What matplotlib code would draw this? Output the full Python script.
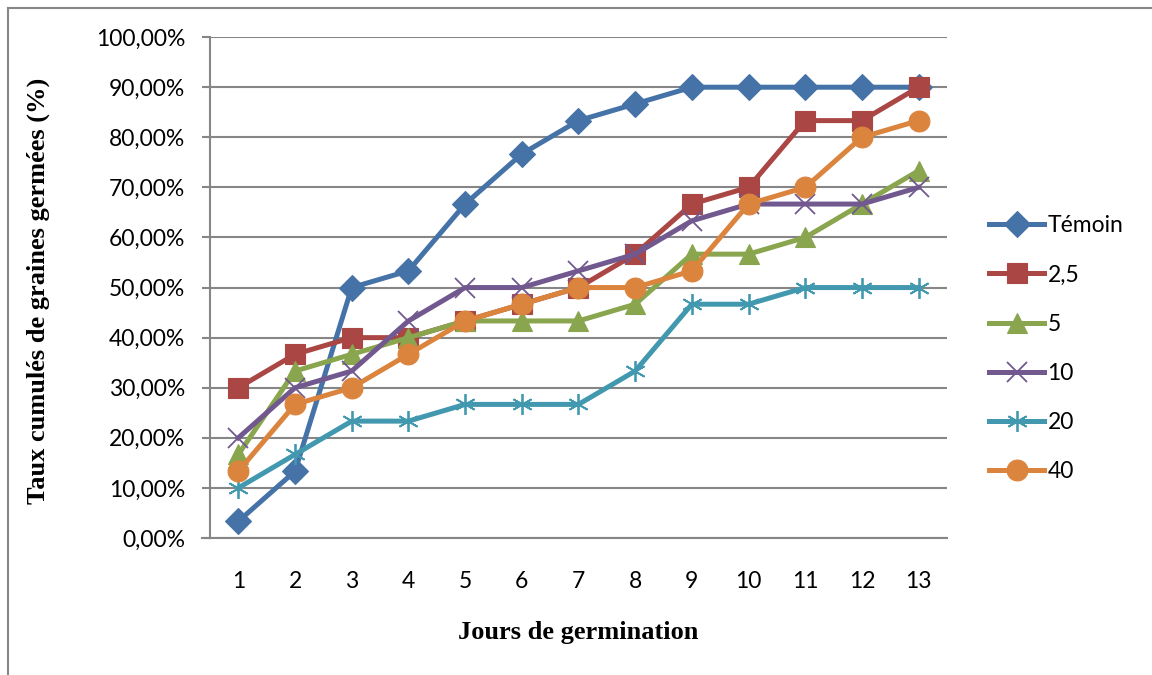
"""
Cumulative germination rate per day for each treatment concentration.
"""
import numpy as np
import matplotlib
matplotlib.use("Agg")
import matplotlib.pyplot as plt
import matplotlib.ticker as mtick
from matplotlib.lines import Line2D

# ---------------------------------------------------------------------------
# Data (%)
# ---------------------------------------------------------------------------
days = [1, 2, 3, 4, 5, 6, 7, 8, 9, 10, 11, 12, 13]

temoin = [3.33, 13.33, 50.0, 53.33, 66.67, 76.67, 83.33, 86.67, 90.0, 90.0, 90.0, 90.0, 90.0]
c2_5   = [30.0, 36.67, 40.0, 40.0, 43.33, 46.67, 50.0, 56.67, 66.67, 70.0, 83.33, 83.33, 90.0]
c5     = [16.67, 33.33, 36.67, 40.0, 43.33, 43.33, 43.33, 46.67, 56.67, 56.67, 60.0, 66.67, 73.33]
c10    = [20.0, 30.0, 33.33, 43.33, 50.0, 50.0, 53.33, 56.67, 63.33, 66.67, 66.67, 66.67, 70.0]
c20    = [10.0, 16.67, 23.33, 23.33, 26.67, 26.67, 26.67, 33.33, 46.67, 46.67, 50.0, 50.0, 50.0]
c40    = [13.33, 26.67, 30.0, 36.67, 43.33, 46.67, 50.0, 50.0, 53.33, 66.67, 70.0, 80.0, 83.33]

labels = ["Témoin", "2,5", "5", "10", "20", "40"]
series = [temoin, c2_5, c5, c10, c20, c40]

colours = ["#4572A7", "#AA4643", "#89A54E", "#71588F", "#4198AF", "#DB843D"]
markers = ["D", "s", "^", "x", (6, 2, 0), "o"]
msizes  = [13, 14, 14, 15, 15, 15]

GRID = "#868686"
SANS = ["Lato", "DejaVu Sans"]
SERIF = ["Liberation Serif", "DejaVu Serif"]

plt.rcParams["font.family"] = SANS

fig = plt.figure(figsize=(11.52, 6.75), dpi=100)
ax = fig.add_axes([0.1823, 0.203, 0.8220 - 0.1823, 0.945 - 0.203])

for vals, lab, col, mk, ms in zip(series, labels, colours, markers, msizes):
    thin = mk in ("x",) or isinstance(mk, tuple)
    ax.plot(days, vals, color=col, linewidth=3.6, label=lab,
            marker=mk, markersize=ms, markerfacecolor=col,
            markeredgecolor=col, markeredgewidth=1.3 if thin else 0.8)

ax.set_xlim(0.5, 13.5)
ax.set_ylim(0, 100)
ax.set_xticks(days)
ax.set_yticks(np.arange(0, 101, 10))
ax.yaxis.set_major_formatter(mtick.FuncFormatter(lambda v, _: f"{v:.2f}%".replace(".", ",")))

ax.grid(True, axis="y", color=GRID, linewidth=1.5)
ax.set_axisbelow(True)
for side in ("top", "right"):
    ax.spines[side].set_visible(False)
for side in ("left", "bottom"):
    ax.spines[side].set_color(GRID)
    ax.spines[side].set_linewidth(1.5)

ax.tick_params(axis="y", length=6, width=1.5, color=GRID, pad=12, labelsize=16.5)
ax.tick_params(axis="x", length=0, pad=24, labelsize=16.5)

# x axis line pokes out left of the y axis like Excel's
ax.plot([0.5 - 0.14, 0.5], [0, 0], color=GRID, linewidth=1.5, clip_on=False)

fig.text(0.502, 1 - 633 / 675, "Jours de germination", ha="center", va="center",
         family=SERIF, fontweight="bold", fontsize=19)
fig.text(38 / 1152, 1 - 291 / 675, "Taux cumulés de graines germées (%)", rotation=90,
         ha="center", va="center", family=SERIF, fontweight="bold", fontsize=19)

ax.legend(loc="upper left", bbox_to_anchor=(980 / 1152, 1 - 206 / 675),
          bbox_transform=fig.transFigure, frameon=False, numpoints=1,
          handlelength=2.4, handletextpad=0.15, labelspacing=1.23, fontsize=16.5,
          borderaxespad=0)

# chart frame (top and left edges)
fig.add_artist(Line2D([8 / 1152, 1.0], [1 - 8 / 675, 1 - 8 / 675],
                      color=GRID, linewidth=1.5, transform=fig.transFigure))
fig.add_artist(Line2D([8 / 1152, 8 / 1152], [0.0, 1 - 8 / 675],
                      color=GRID, linewidth=1.5, transform=fig.transFigure))

fig.savefig("out.png", dpi=100)
